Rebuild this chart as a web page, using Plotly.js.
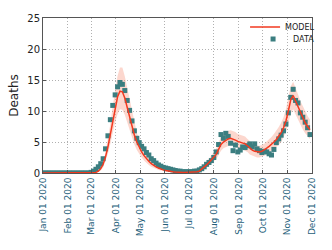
<!DOCTYPE html>
<html>
<head>
<meta charset="utf-8">
<script src="https://cdn.plot.ly/plotly-3.0.1.min.js"></script>
<style>html,body{margin:0;padding:0;background:#fff;}#chart{width:332px;height:250px;}</style>
</head>
<body>
<div id="chart"></div>
<script>
// Series start date and spacing (days) between samples
const startDate = '2020-01-01';
const stepDays = 3;

// Observed deaths (DATA)
const dataValues = [
  0,0,0,0,0,0,0,0,0,0,
  0,0,0,0,0,0,0,0,0,0,
  0.1,0.3,0.6,1.0,1.5,2.3,3.9,6.0,8.6,10.9,
  12.6,13.9,14.6,14.3,13.3,11.7,10.1,8.4,6.8,5.6,
  4.9,4.3,3.9,3.3,2.9,2.3,2.0,1.6,1.3,1.1,
  0.9,0.8,0.7,0.6,0.5,0.4,0.3,0.3,0.2,0.2,
  0.2,0.2,0.2,0.3,0.3,0.5,0.7,1.0,1.4,1.7,
  2.0,2.5,3.4,4.6,6.2,5.6,6.4,5.9,4.8,3.6,
  4.5,3.4,3.7,4.2,4.1,4.4,4.7,4.2,4.7,3.9,
  3.6,3.3,3.5,3.4,3.1,2.9,3.8,4.9,5.5,6.1,
  6.8,7.9,9.7,12.2,13.5,11.7,11.3,9.7,9.0,8.2,
  7.3,6.2
];

// Model central estimate (MODEL)
const modelValues = [
  0,0,0,0,0,0,0,0,0,0,
  0,0,0,0,0,0,0,0,0,0,
  0,0,0.1,0.3,0.7,1.4,2.6,4.2,6.2,8.5,
  10.6,12.3,13.2,13.1,12.1,10.6,9.0,7.5,6.1,5.0,
  4.1,3.4,2.8,2.3,1.9,1.5,1.2,1.0,0.8,0.6,
  0.5,0.4,0.3,0.25,0.2,0.15,0.1,0.1,0.1,0.1,
  0.1,0.1,0.1,0.15,0.2,0.3,0.6,0.9,1.3,1.7,
  2.1,2.5,3.0,3.8,4.6,5.0,5.3,5.5,5.6,5.5,
  5.3,5.1,5.0,4.9,4.7,4.4,4.0,3.7,3.5,3.4,
  3.4,3.5,3.7,4.0,4.3,4.6,5.0,5.4,5.9,6.5,
  7.3,8.4,10.0,11.8,12.5,11.6,10.6,9.6,8.8,8.1,
  7.5,7.0
];

// Model uncertainty band
const modelUpper = [
  0,0,0,0,0,0,0,0,0,0,
  0,0,0,0,0,0,0,0,0,0,
  0,0,0.2,0.5,1.0,1.9,3.4,5.4,7.9,10.8,
  13.5,15.7,17.0,17.0,15.6,13.7,11.6,9.7,7.9,6.5,
  5.4,4.5,3.7,3.1,2.6,2.1,1.7,1.4,1.2,0.9,
  0.8,0.6,0.5,0.4,0.35,0.3,0.25,0.2,0.2,0.2,
  0.2,0.2,0.2,0.3,0.4,0.5,0.9,1.3,1.8,2.3,
  2.8,3.3,3.9,4.9,5.8,6.3,6.6,6.8,6.9,6.8,
  6.6,6.3,6.2,6.1,5.9,5.5,5.1,4.8,4.5,4.4,
  4.4,4.5,4.7,5.1,5.4,5.8,6.3,6.8,7.4,8.1,
  9.0,10.3,12.1,14.0,14.7,13.8,12.7,11.6,10.7,9.9,
  9.2,8.6
];
const modelLower = [
  0,0,0,0,0,0,0,0,0,0,
  0,0,0,0,0,0,0,0,0,0,
  0,0,0.05,0.15,0.4,0.9,1.9,3.1,4.7,6.5,
  8.2,9.5,10.3,10.2,9.4,8.2,6.9,5.7,4.6,3.7,
  3.0,2.5,2.0,1.6,1.3,1.0,0.8,0.7,0.5,0.4,
  0.3,0.25,0.2,0.15,0.1,0.1,0.05,0.05,0.05,0.05,
  0.05,0.05,0.05,0.05,0.1,0.2,0.4,0.6,0.9,1.2,
  1.5,1.8,2.2,2.9,3.6,4.0,4.2,4.4,4.5,4.4,
  4.2,4.0,3.9,3.8,3.6,3.4,3.0,2.8,2.6,2.5,
  2.5,2.6,2.8,3.0,3.3,3.5,3.8,4.1,4.5,5.0,
  5.7,6.6,8.0,9.6,10.3,9.5,8.6,7.7,7.0,6.4,
  5.9,5.5
];

// Axis ticks
const monthTicks = ['2020-01-01','2020-02-01','2020-03-01','2020-04-01','2020-05-01','2020-06-01',
  '2020-07-01','2020-08-01','2020-09-01','2020-10-01','2020-11-01','2020-12-01'];
const monthLabels = ['Jan 01 2020','Feb 01 2020','Mar 01 2020','Apr 01 2020','May 01 2020','Jun 01 2020',
  'Jul 01 2020','Aug 01 2020','Sep 01 2020','Oct 01 2020','Nov 01 2020','Dec 01 2020'];
const yTicks = [0,5,10,15,20,25];

function buildDates(n){
  const base = new Date(startDate + 'T00:00:00Z').getTime();
  const out = [];
  for (let i = 0; i < n; i++) {
    out.push(new Date(base + i*stepDays*86400000).toISOString().slice(0,10));
  }
  return out;
}
const dates = buildDates(dataValues.length);

const FONT = 'DejaVu Sans, sans-serif';

const traces = [
  {x: dates, y: modelLower, type: 'scatter', mode: 'lines', line: {width: 0, color: 'rgba(0,0,0,0)'},
   showlegend: false, hoverinfo: 'skip'},
  {x: dates, y: modelUpper, type: 'scatter', mode: 'lines', line: {width: 0, color: 'rgba(0,0,0,0)'},
   fill: 'tonexty', fillcolor: 'rgba(248,150,125,0.38)', showlegend: false, hoverinfo: 'skip'},
  {x: dates, y: dataValues, type: 'scatter', mode: 'markers', name: 'DATA', legend: 'legend2',
   marker: {symbol: 'square', size: 5, color: '#3b7e80'}},
  {x: dates, y: modelValues, type: 'scatter', mode: 'lines', name: 'MODEL', legend: 'legend',
   line: {color: '#f2391f', width: 1.5}}
];

const legendCommon = {
  xanchor: 'right', yanchor: 'top', bgcolor: 'rgba(0,0,0,0)',
  font: {family: FONT, size: 8, color: '#222'}, itemwidth: 30
};

const layout = {
  width: 332, height: 250,
  margin: {l: 43, r: 16, t: 18, b: 77},
  paper_bgcolor: '#fff', plot_bgcolor: '#fff',
  font: {family: FONT, size: 10, color: '#222'},
  showlegend: true,
  legend: Object.assign({x: 1.03, y: 1.035}, legendCommon),
  legend2: Object.assign({x: 1.03, y: 0.958}, legendCommon),
  xaxis: {
    type: 'date', range: ['2020-01-01', '2020-12-01 12:00'],
    tickvals: monthTicks, ticktext: monthLabels, tickangle: -90,
    tickfont: {family: FONT, size: 9, color: '#24607a'},
    showgrid: true, gridcolor: '#b0b0b0', griddash: '1px,2px', gridwidth: 1,
    showline: true, linecolor: '#555', linewidth: 1, mirror: true,
    ticks: 'inside', ticklen: 3, tickcolor: '#555', zeroline: false
  },
  yaxis: {
    range: [0, 25], tickvals: yTicks,
    tickfont: {family: FONT, size: 10, color: '#222'},
    title: {text: 'Deaths', font: {family: FONT, size: 12, color: '#222'}, standoff: 6},
    showgrid: true, gridcolor: '#b0b0b0', griddash: '1px,2px', gridwidth: 1,
    showline: true, linecolor: '#555', linewidth: 1, mirror: true,
    ticks: 'inside', ticklen: 3, tickcolor: '#555', zeroline: false
  }
};

Plotly.newPlot('chart', traces, layout, {displayModeBar: false, staticPlot: true});
</script>
</body>
</html>
